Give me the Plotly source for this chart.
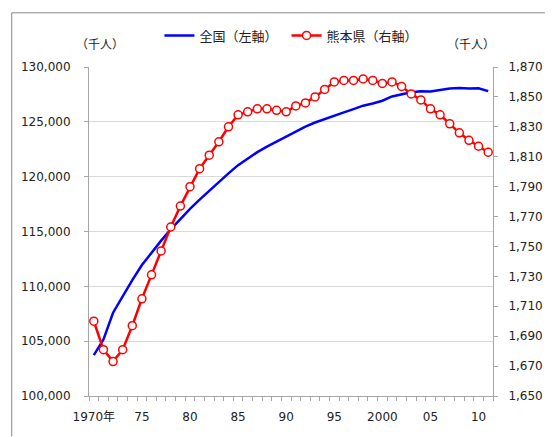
import plotly.graph_objects as go

years = list(range(1970, 2012))
japan = [103720, 105145, 107595, 109104, 110573, 111940, 113094, 114165, 115190, 116155,
         117060, 117902, 118728, 119536, 120305, 121049, 121660, 122239, 122745, 123205,
         123611, 124101, 124567, 124938, 125265, 125570, 125859, 126157, 126472, 126667,
         126926, 127316, 127486, 127694, 127787, 127768, 127901, 128033, 128084, 128032,
         128057, 127799]
kumamoto = [1700, 1681, 1673, 1681, 1697, 1715, 1731, 1747, 1763, 1777,
            1790, 1802, 1811, 1820, 1830, 1838, 1840, 1842, 1842, 1841,
            1840, 1844, 1846, 1850, 1855, 1860, 1861, 1861, 1862, 1861,
            1859, 1860, 1857, 1852, 1848, 1842, 1838, 1832, 1826, 1821,
            1817, 1813]
tick_years = [1970, 1975, 1980, 1985, 1990, 1995, 2000, 2005, 2010]
tick_text = ["1970年", "75", "80", "85", "90", "95", "2000", "05", "10"]
left_ticks = list(range(100000, 130001, 5000))
right_ticks = list(range(1650, 1871, 20))

FONT = "DejaVu Sans, Noto Sans CJK JP, sans-serif"
AX = "#a6a6a6"

fig = go.Figure()
fig.add_trace(go.Scatter(x=years, y=japan, name="全国（左軸）\u00a0", mode="lines",
                         line=dict(color="#0000ff", width=2.5), yaxis="y"))
fig.add_trace(go.Scatter(x=years, y=kumamoto, name="熊本県（右軸）", mode="lines+markers",
                         line=dict(color="#ff0000", width=2.5),
                         marker=dict(symbol="circle", size=8, color="white",
                                     line=dict(color="#ff0000", width=1.5)),
                         yaxis="y2"))

# the page body has an 8px default margin; the figure is sized so that the
# plot area lands at page px 89..502 x 62..396 inside the 555x437 window
OFF = 8
PL, PR, PT, PB = 89, 502, 62, 396
PAGE_W, PAGE_H = 555, 437
W, H = PAGE_W - OFF, PAGE_H - OFF
pw = PR - PL
ph = PB - PT

def px(x):
    return (x - PL) / pw

def py(y):
    return (PB - y) / ph

fig.update_layout(
    width=W, height=H,
    margin=dict(l=PL - OFF, r=PAGE_W - PR, t=PT - OFF, b=PAGE_H - PB, pad=0),
    paper_bgcolor="white", plot_bgcolor="white",
    font=dict(family=FONT, size=12, color="#222222"),
    showlegend=True,
    legend=dict(orientation="h", x=px(161), xanchor="left", y=py(30), yanchor="middle",
                font=dict(size=13, family=FONT), bgcolor="rgba(0,0,0,0)",
                itemwidth=30, tracegroupgap=0),
    xaxis=dict(range=[1969.5, 2011.5], tickmode="array", tickvals=tick_years,
               ticktext=tick_text, ticks="", showgrid=False, zeroline=False,
               showline=True, linecolor=AX, linewidth=1,
               ticklabelstandoff=10,
               minor=dict(tick0=1969.5, dtick=1, ticks="outside", ticklen=4,
                          tickcolor=AX, showgrid=False)),
    yaxis=dict(range=[100000, 130000], tickvals=left_ticks,
               ticktext=[f"{v:,}" for v in left_ticks],
               ticks="outside", ticklen=4, tickcolor=AX,
               showline=True, linecolor=AX, linewidth=1,
               showgrid=True, gridcolor="#d9d9d9", gridwidth=1, zeroline=False,
               ticklabelstandoff=11),
    yaxis2=dict(range=[1650, 1870], tickvals=right_ticks,
                ticktext=[f"{v:,}" for v in right_ticks],
                overlaying="y", side="right", anchor="x",
                ticks="outside", ticklen=4, tickcolor=AX,
                showline=True, linecolor=AX, linewidth=1,
                showgrid=False, zeroline=False, ticklabelstandoff=8),
    annotations=[
        dict(text="（千人）", x=px(100), y=py(40), xref="paper", yref="paper",
             showarrow=False, xanchor="center", yanchor="middle", font=dict(size=12)),
        dict(text="（千人）", x=px(479), y=py(40), xref="paper", yref="paper",
             showarrow=False, xanchor="center", yanchor="middle", font=dict(size=12)),
    ],
    shapes=[
        dict(type="line", xref="paper", yref="paper", x0=px(10), x1=px(10),
             y0=py(7), y1=py(437), line=dict(color="#888888", width=1)),
        dict(type="line", xref="paper", yref="paper", x0=px(10), x1=px(555),
             y0=py(7), y1=py(7), line=dict(color="#888888", width=1)),
    ],
)

fig.write_html("out.html", config={"displayModeBar": False})
